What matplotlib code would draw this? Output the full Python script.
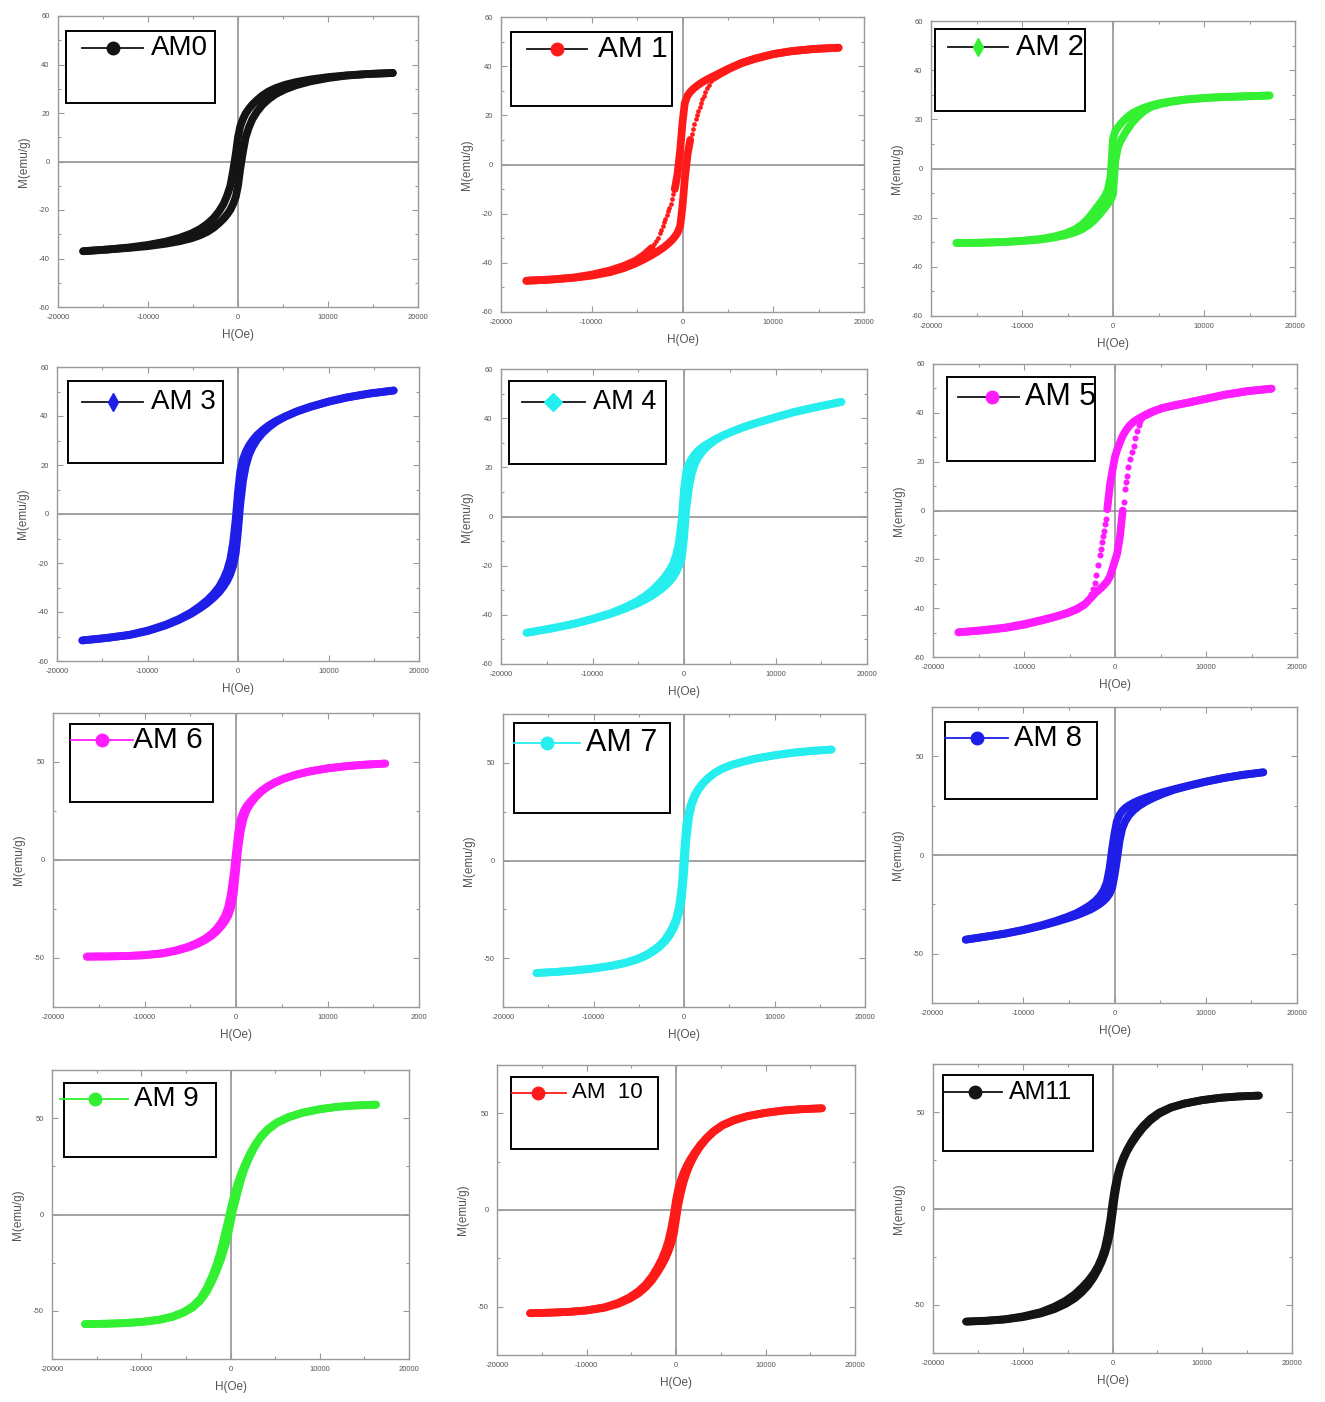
import numpy as np
import matplotlib
matplotlib.use("Agg")
import matplotlib.pyplot as plt
from matplotlib.patches import Rectangle
from matplotlib.lines import Line2D
from matplotlib.ticker import MultipleLocator

nan = np.nan

# ---------------------------------------------------------------- data
# applied field grids (Oe)
H_WIDE = [-17200, -14500, -12000, -10000, -8000, -6500, -5200, -4200, -3400, -2700, -2100,
          -1600, -1200, -850, -550, -250, 0, 250, 550, 850, 1200, 1600, 2100, 2700,
          3400, 4200, 5200, 6500, 8000, 10000, 12000, 14500, 17200]
H_NARROW = [-16300, -14000, -12000, -10000, -8000, -6500, -5200, -4200, -3400, -2700, -2100,
            -1600, -1200, -850, -550, -250, 0, 250, 550, 850, 1200, 1600, 2100, 2700,
            3400, 4200, 5200, 6500, 8000, 10000, 12000, 14000, 16300]

LABELS = ["AM0", "AM 1", "AM 2", "AM 3", "AM 4", "AM 5",
          "AM 6", "AM 7", "AM 8", "AM 9", "AM  10", "AM11"]

# magnetisation (emu/g): descending (from +Hmax) and ascending (from -Hmax) branches
am0_desc = [-37.0, -36.3, -35.4, -34.4, -33.0, -31.5, -29.7, -27.8, -25.7, -23.3, -20.5, -17.5, -14.0,
            -10.0, -4.0, 3.0, 10.0, 14.5, 17.5, 19.8, 21.7, 23.5, 25.3, 27.2, 28.9, 30.3, 31.6, 32.8,
            33.8, 34.8, 35.5, 36.1, 36.5]
am0_asc = [-37.0, -36.3, -35.6, -34.9, -33.9, -32.9, -31.7, -30.4, -29.0, -27.3, -25.4, -23.6, -21.8,
           -19.9, -17.6, -14.6, -10.0, -3.0, 4.0, 10.0, 14.0, 17.5, 20.5, 23.3, 25.7, 27.8, 29.7, 31.5,
           33.0, 34.4, 35.4, 36.1, 36.5]

am1_desc = [-47.3, -46.8, -46.0, -44.8, -43.1, -41.3, -39.2, -36.7, -34.0, nan, nan, nan, nan,
            -10.0, -4.0, 6.0, 17.0, 25.0, 28.0, 29.5, 30.8, 32.0, 33.3, 34.6, 35.9, 37.4, 39.2, 41.3,
            43.1, 44.9, 46.1, 47.0, 47.5]
am1_asc = [-47.3, -46.8, -46.1, -45.2, -43.8, -42.2, -40.3, -38.5, -36.9, -35.3, -33.8, -32.3, -30.9,
           -29.4, -27.8, -25.0, -17.0, -6.0, 4.0, 10.0, nan, nan, nan, nan, 35.2, 37.0, 39.0, 41.2,
           43.0, 44.9, 46.1, 47.0, 47.5]
am1_sparse_h = [-1000, -1150, -1300, -1450, -1600, -1750, -1900, -2050, -2200, -2350, -2500, -2700,
                -2900, -3100,
                1000, 1150, 1300, 1450, 1600, 1750, 1900, 2050, 2200, 2350, 2500, 2700, 2900, 3100]
am1_sparse_m = [-12.0, -14.0, -16.0, -17.5, -19.0, -20.5, -22.0, -23.5, -25.0, -26.5, -28.0, -29.7,
                -31.2, -32.5,
                12.5, 14.5, 16.5, 18.5, 20.0, 21.8, 23.5, 25.0, 26.5, 28.0, 29.5, 31.0, 32.5, 33.8]

am2_desc = [-30.3, -30.2, -29.9, -29.4, -28.7, -27.7, -26.4, -24.8, -22.8, -20.2, -17.4, -15.0, -13.0,
            -11.0, -8.5, -3.0, 12.0, 15.2, 16.8, 18.2, 19.6, 21.0, 22.4, 23.6, 24.7, 25.7, 26.6, 27.4,
            28.1, 28.7, 29.1, 29.4, 29.7]
am2_asc = [-30.3, -30.2, -29.9, -29.5, -28.9, -28.1, -27.1, -26.0, -24.7, -23.1, -21.2, -19.2, -17.4,
           -15.8, -14.3, -12.8, -10.5, 3.0, 8.8, 11.3, 13.6, 16.0, 18.6, 21.0, 23.3, 25.1, 26.2, 27.2,
           28.0, 28.6, 29.0, 29.3, 29.7]

am3_desc = [-51.6, -50.6, -49.3, -47.6, -45.2, -42.8, -40.2, -37.6, -35.2, -32.6, -29.8, -26.5, -23.0,
            -18.5, -12.0, -2.0, 9.0, 17.5, 22.3, 25.3, 27.8, 30.0, 32.2, 34.2, 36.2, 38.0, 39.8, 41.9,
            43.8, 45.9, 47.6, 49.2, 50.4]
am3_asc = [-51.6, -50.6, -49.4, -47.8, -45.5, -43.2, -40.8, -38.5, -36.4, -34.2, -32.0, -29.6, -27.3,
           -24.6, -21.3, -16.0, -7.0, 4.0, 13.5, 19.5, 24.0, 27.3, 30.3, 33.0, 35.4, 37.6, 39.7, 41.8,
           43.7, 45.8, 47.5, 49.1, 50.4]

am4_desc = [-47.3, -45.5, -43.6, -41.6, -39.3, -37.0, -34.6, -32.2, -29.8, -27.2, -24.6, -22.0, -19.3,
            -15.5, -10.5, -1.0, 11.0, 18.5, 21.5, 23.6, 25.4, 27.0, 28.5, 29.9, 31.4, 32.9, 34.5, 36.4,
            38.2, 40.4, 42.5, 44.6, 46.6]
am4_asc = [-47.3, -45.6, -43.7, -41.8, -39.6, -37.6, -35.6, -33.8, -32.0, -30.2, -28.4, -26.6, -24.7,
           -22.6, -20.2, -17.0, -9.0, 3.0, 12.0, 17.5, 21.5, 24.3, 26.8, 29.0, 31.0, 32.8, 34.4, 36.3,
           38.1, 40.3, 42.4, 44.5, 46.6]

am5_desc = [-49.9, -49.0, -47.9, -46.5, -44.8, -43.4, -41.9, -40.3, -38.5, nan, nan, nan, nan,
            0.5, 10.5, 17.0, 22.0, 25.0, 27.9, 30.6, 32.8, 34.8, 36.5, 37.9, 39.3, 40.7, 42.0, 43.1,
            44.2, 45.8, 47.4, 48.9, 49.9]
am5_asc = [-49.9, -49.1, -48.1, -46.8, -45.0, -43.5, -42.0, -40.5, -38.7, -36.0, -33.6, -32.0, -30.5,
           -29.0, -27.0, -23.5, -20.5, -17.5, -10.5, 0.0, nan, nan, nan, nan, 39.0, 40.5, 41.9, 43.0,
           44.1, 45.7, 47.3, 48.8, 49.9]
am5_sparse_h = [-1000, -1100, -1220, -1350, -1480, -1580, -1670, -1850, -2040, -2220, -2400, -2600,
                -2780, -3000, -3200,
                980, 1110, 1200, 1300, 1480, 1670, 1850, 2040, 2220, 2400, 2600, 2780, 3000, 3200]
am5_sparse_m = [-3.5, -5.5, -8.2, -10.5, -13.0, -15.8, -18.4, -22.5, -26.5, -29.5, -32.0, -34.0,
                -35.5, -36.8, -37.8,
                3.5, 8.8, 11.5, 14.3, 18.0, 21.1, 24.0, 26.5, 29.5, 32.7, 35.0, 36.7, 37.7, 38.5]

am6_desc = [-49.3, -49.2, -49.0, -48.5, -47.5, -46.0, -44.2, -42.2, -40.2, -37.8, -35.0, -31.8, -28.5,
            -24.0, -17.0, -7.0, 4.0, 14.5, 21.5, 25.0, 27.8, 30.0, 32.5, 35.0, 37.4, 39.5, 41.5, 43.5,
            45.2, 46.8, 47.9, 48.6, 49.2]
am6_asc = [-49.3, -49.2, -49.0, -48.6, -47.7, -46.3, -44.6, -42.8, -40.9, -38.8, -36.4, -33.8, -31.3,
           -28.5, -24.5, -17.5, -6.0, 6.0, 15.5, 21.5, 25.8, 28.8, 31.8, 34.6, 37.1, 39.3, 41.4, 43.4,
           45.1, 46.7, 47.8, 48.6, 49.2]

am7_desc = [-57.6, -57.0, -56.2, -55.2, -53.8, -52.3, -50.4, -48.3, -46.0, -43.5, -40.5, -37.0, -33.5,
            -29.5, -23.5, -13.0, 4.0, 18.5, 25.5, 30.0, 33.8, 36.8, 39.7, 42.4, 44.9, 47.0, 48.9, 50.6,
            52.3, 53.9, 55.2, 56.1, 56.8]
am7_asc = [-57.6, -57.0, -56.3, -55.3, -54.0, -52.6, -50.8, -48.8, -46.6, -44.2, -41.5, -38.5, -35.3,
           -31.5, -27.0, -20.0, -7.0, 10.0, 22.0, 28.5, 32.7, 36.2, 39.4, 42.2, 44.8, 46.9, 48.8, 50.5,
           52.2, 53.8, 55.1, 56.0, 56.8]

am8_desc = [-42.9, -41.3, -39.8, -37.9, -35.6, -33.5, -31.4, -29.5, -27.5, -25.5, -23.3, -20.8, -18.0,
            -14.0, -7.0, 3.5, 11.0, 17.0, 20.3, 22.3, 23.9, 25.2, 26.5, 27.8, 29.0, 30.3, 31.7, 33.3,
            35.0, 37.2, 39.1, 40.6, 41.9]
am8_asc = [-42.9, -41.3, -39.9, -38.1, -35.9, -34.0, -32.2, -30.7, -29.2, -27.8, -26.3, -24.8, -23.3,
           -21.7, -19.7, -16.5, -10.5, -3.0, 7.0, 13.5, 17.3, 20.2, 22.7, 24.9, 26.9, 28.8, 30.8, 33.0,
           34.9, 37.1, 39.0, 40.5, 41.9]

am9_desc = [-56.9, -56.7, -56.4, -55.8, -54.6, -52.9, -50.5, -47.5, -43.8, -38.5, -32.5, -26.5, -20.5,
            -14.5, -8.5, -2.8, 2.5, 7.2, 12.3, 16.8, 21.3, 25.8, 30.8, 35.8, 40.6, 44.4, 47.8, 50.6,
            52.8, 54.7, 55.9, 56.6, 57.0]
am9_asc = [-56.9, -56.7, -56.4, -55.8, -54.7, -53.2, -50.9, -48.2, -44.8, -40.3, -35.0, -29.8, -25.0,
           -20.2, -15.5, -10.0, -4.5, 1.5, 7.0, 12.5, 18.5, 24.0, 29.5, 35.0, 40.0, 44.0, 47.5, 50.4,
           52.7, 54.6, 55.9, 56.6, 57.0]

am10_desc = [-53.4, -53.1, -52.7, -51.9, -50.3, -48.1, -45.2, -42.0, -38.6, -34.5, -30.0, -25.5, -21.0,
             -16.0, -10.0, -2.5, 5.0, 10.8, 15.5, 19.3, 22.8, 26.2, 29.8, 33.6, 37.3, 40.8, 44.0, 46.6,
             48.6, 50.3, 51.5, 52.2, 52.6]
am10_asc = [-53.4, -53.1, -52.7, -52.0, -50.6, -48.6, -46.0, -43.2, -40.0, -36.5, -32.5, -28.7, -25.2,
            -21.5, -17.5, -12.5, -5.0, 2.5, 9.0, 14.5, 19.5, 24.0, 28.5, 32.8, 36.8, 40.4, 43.7, 46.4,
            48.5, 50.2, 51.4, 52.1, 52.6]

am11_desc = [-58.7, -58.2, -57.5, -56.0, -53.8, -51.0, -47.8, -44.5, -41.0, -37.5, -33.8, -29.8, -25.5,
             -20.5, -14.0, -6.0, 3.0, 10.5, 17.0, 22.0, 26.3, 30.3, 34.5, 38.8, 42.8, 46.5, 49.8, 52.5,
             54.5, 56.3, 57.5, 58.2, 58.6]
am11_asc = [-58.7, -58.3, -57.6, -56.4, -54.5, -52.3, -49.5, -46.6, -43.4, -39.8, -35.8, -31.6, -27.6,
            -23.3, -18.5, -12.0, -3.0, 6.0, 14.5, 20.5, 25.3, 29.5, 33.5, 37.6, 41.8, 45.6, 49.2, 52.3,
            54.4, 56.2, 57.4, 58.1, 58.6]

X_TICKS = [-20000, -10000, 0, 10000, 20000]
X_TICKLABELS = ["-20000", "-10000", "0", "10000", "20000"]
X_TICKLABELS_CUT = ["-20000", "-10000", "0", "10000", "2000"]
Y_TICKS_60 = [-60, -40, -20, 0, 20, 40, 60]
Y_TICKS_50 = [-50, 0, 50]

# ---------------------------------------------------------------- styling
BLACK = "#141414"
RED = "#ff1a1a"
GREEN = "#33f033"
BLUE = "#1e1ee8"
CYAN = "#26eeee"
MAGENTA = "#ff1cff"
GREY = "#8a8a8a"

FIG_W, FIG_H = 1325, 1402


def fx(x):
    return x / FIG_W


def fy(y):
    return 1 - y / FIG_H


panels = [
    # curves, colour, field grid, sparse points, y-scale, frame px (l, r, t, b),
    # legend box px, legend handle (x0, x1, y, marker x), text x, font size,
    # handle line colour, legend marker
    dict(desc=am0_desc, asc=am0_asc, color=BLACK, h=H_WIDE, sparse=None, ys=60,
         frame=(58, 418, 16, 307), box=(66, 215, 31, 103), handle=(82, 143, 48, 113),
         tx=151, fs=20, hcol=BLACK, mk="o"),
    dict(desc=am1_desc, asc=am1_asc, color=RED, h=H_WIDE, sparse=(am1_sparse_h, am1_sparse_m, 3.4), ys=60,
         frame=(501, 864, 17, 312), box=(511, 672, 32, 106), handle=(527, 587, 49, 557),
         tx=598, fs=21.5, hcol=BLACK, mk="o"),
    dict(desc=am2_desc, asc=am2_asc, color=GREEN, h=H_WIDE, sparse=None, ys=60,
         frame=(931, 1295, 21, 316), box=(935, 1085, 29, 111), handle=(948, 1008, 47, 978),
         tx=1016, fs=21, hcol=BLACK, mk="d"),
    dict(desc=am3_desc, asc=am3_asc, color=BLUE, h=H_WIDE, sparse=None, ys=60,
         frame=(57, 419, 367, 661), box=(68, 223, 381, 463), handle=(82, 143, 402, 113),
         tx=151, fs=20, hcol=BLACK, mk="d"),
    dict(desc=am4_desc, asc=am4_asc, color=CYAN, h=H_WIDE, sparse=None, ys=60,
         frame=(501, 867, 369, 664), box=(509, 666, 381, 464), handle=(522, 585, 402, 553),
         tx=593, fs=19.5, hcol=BLACK, mk="D"),
    dict(desc=am5_desc, asc=am5_asc, color=MAGENTA, h=H_WIDE, sparse=(am5_sparse_h, am5_sparse_m, 4.4), ys=60,
         frame=(933, 1297, 364, 657), box=(947, 1095, 377, 461), handle=(958, 1019, 397, 992),
         tx=1025, fs=22, hcol=BLACK, mk="o"),
    dict(desc=am6_desc, asc=am6_asc, color=MAGENTA, h=H_NARROW, sparse=None, ys=50,
         frame=(53, 419, 713, 1007), box=(70, 213, 724, 802), handle=(71, 133, 740, 102),
         tx=133, fs=21.5, hcol=MAGENTA, mk="o"),
    dict(desc=am7_desc, asc=am7_asc, color=CYAN, h=H_NARROW, sparse=None, ys=50,
         frame=(503, 865, 714, 1007), box=(514, 670, 723, 813), handle=(514, 580, 743, 547),
         tx=586, fs=22, hcol=CYAN, mk="o"),
    dict(desc=am8_desc, asc=am8_asc, color=BLUE, h=H_NARROW, sparse=None, ys=50,
         frame=(932, 1297, 707, 1003), box=(945, 1097, 722, 799), handle=(945, 1008, 738, 977),
         tx=1014, fs=21, hcol=BLUE, mk="o"),
    dict(desc=am9_desc, asc=am9_asc, color=GREEN, h=H_NARROW, sparse=None, ys=50,
         frame=(52, 409, 1070, 1359), box=(64, 216, 1083, 1157), handle=(60, 128, 1099, 95),
         tx=134, fs=20, hcol=GREEN, mk="o"),
    dict(desc=am10_desc, asc=am10_asc, color=RED, h=H_NARROW, sparse=None, ys=50,
         frame=(497, 855, 1065, 1355), box=(511, 658, 1077, 1149), handle=(512, 566, 1093, 538),
         tx=572, fs=16, hcol=RED, mk="o"),
    dict(desc=am11_desc, asc=am11_asc, color=BLACK, h=H_NARROW, sparse=None, ys=50,
         frame=(933, 1292, 1064, 1353), box=(943, 1093, 1075, 1151), handle=(943, 1002, 1092, 975),
         tx=1009, fs=18, hcol=BLACK, mk="o"),
]

plt.rcParams["font.family"] = ["Liberation Sans", "DejaVu Sans"]

fig = plt.figure(figsize=(FIG_W / 100, FIG_H / 100), dpi=100)
fig.patch.set_facecolor("white")

for i, p in enumerate(panels):
    l, r, t, b = p["frame"]
    ax = fig.add_axes([fx(l), fy(b), fx(r) - fx(l), fy(t) - fy(b)])
    ax.set_xlim(-20000, 20000)

    # zero field / zero moment guide lines
    ax.axhline(0, color=GREY, lw=1.1, zorder=1)
    ax.axvline(0, color=GREY, lw=1.1, zorder=1)

    h = np.array(p["h"], dtype=float)
    for branch in (p["desc"], p["asc"]):
        ax.plot(h, np.array(branch, dtype=float), color=p["color"], lw=5.6,
                solid_capstyle="round", solid_joinstyle="round", zorder=3)
    if p["sparse"] is not None:
        sh, sm, ms = p["sparse"]
        ax.plot(sh, sm, linestyle="none", marker="o", ms=ms, color=p["color"],
                mec="none", zorder=3)

    ax.set_xticks(X_TICKS)
    ax.set_xticklabels(X_TICKLABELS_CUT if i == 6 else X_TICKLABELS)
    ax.xaxis.set_minor_locator(MultipleLocator(5000))
    if p["ys"] == 60:
        ax.set_ylim(-60, 60)
        ax.set_yticks(Y_TICKS_60)
        ax.set_yticklabels([str(v) for v in Y_TICKS_60])
        ax.yaxis.set_minor_locator(MultipleLocator(10))
    else:
        ax.set_ylim(-75, 75)
        ax.set_yticks(Y_TICKS_50)
        ax.set_yticklabels([str(v) for v in Y_TICKS_50])
        ax.yaxis.set_minor_locator(MultipleLocator(25))

    ax.tick_params(which="both", direction="in", top=True, right=True,
                   colors="#9a9a9a", labelcolor="#555555", width=0.8)
    ax.tick_params(which="major", length=4, labelsize=5.5)
    ax.tick_params(which="minor", length=2.2)
    ax.tick_params(axis="x", which="major", pad=5)
    ax.tick_params(axis="y", which="major", pad=6)
    for s in ax.spines.values():
        s.set_color("#9a9a9a")
        s.set_linewidth(1.0)

    ax.set_xlabel("H(Oe)", fontsize=8.5, color="#555555", labelpad=6)
    ax.set_ylabel("M(emu/g)", fontsize=8.5, color="#555555", labelpad=6)

    # legend box with its handle and sample name
    bx0, bx1, by0, by1 = p["box"]
    fig.add_artist(Rectangle((fx(bx0), fy(by1)), fx(bx1) - fx(bx0), fy(by0) - fy(by1),
                             transform=fig.transFigure, facecolor="white",
                             edgecolor="black", lw=1.4, zorder=5))
    lx0, lx1, ly, mx = p["handle"]
    fig.add_artist(Line2D([fx(lx0), fx(lx1)], [fy(ly), fy(ly)], transform=fig.transFigure,
                          color=p["hcol"], lw=1.3, zorder=6))
    fig.add_artist(Line2D([fx(mx)], [fy(ly)], transform=fig.transFigure, linestyle="none",
                          marker=p["mk"], ms=9, color=p["color"], mec=p["color"], zorder=7))
    fig.text(fx(p["tx"]), fy(ly), LABELS[i], fontsize=p["fs"], color="black",
             ha="left", va="center", zorder=8)

fig.savefig("out.png", dpi=100, facecolor="white")
